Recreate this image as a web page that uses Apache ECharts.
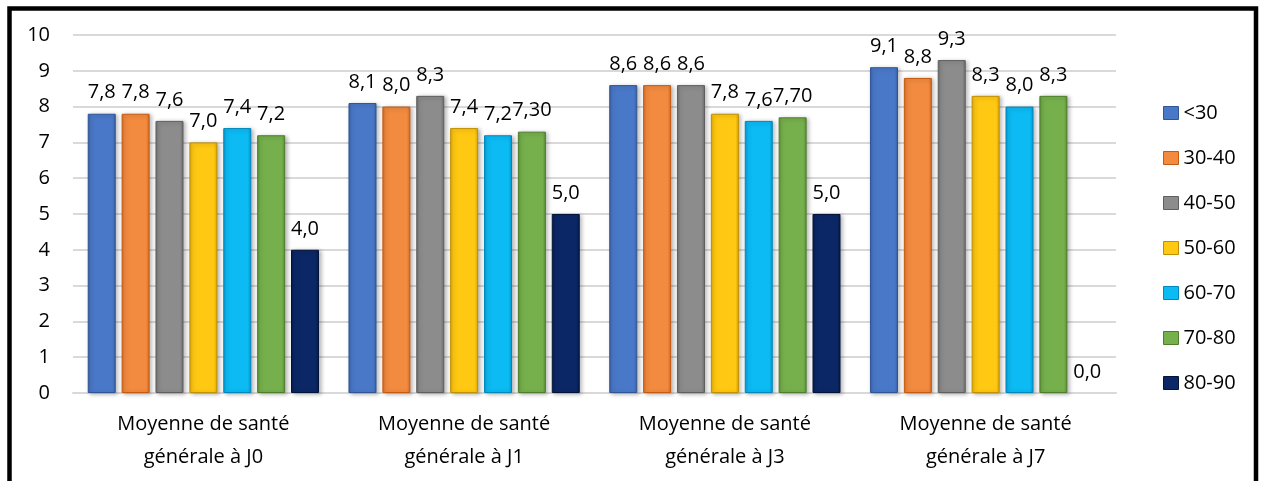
<!DOCTYPE html>
<html>
<head>
<meta charset="utf-8">
<script src="https://cdn.jsdelivr.net/npm/echarts@6/dist/echarts.min.js"></script>
<style>
  html, body { margin: 0; padding: 0; background: #ffffff; }
  #chart { width: 1262px; height: 481px; }
</style>
</head>
<body>
<div id="chart"></div>
<script>
// Mean general health score by age group, at J0, J1, J3 and J7
const categories = [
  'Moyenne de santé\ngénérale à J0',
  'Moyenne de santé\ngénérale à J1',
  'Moyenne de santé\ngénérale à J3',
  'Moyenne de santé\ngénérale à J7'
];
const ageGroups = ['<30', '30-40', '40-50', '50-60', '60-70', '70-80', '80-90'];

const valuesUnder30 = [7.8, 8.1, 8.6, 9.1];
const values30to40 = [7.8, 8.0, 8.6, 8.8];
const values40to50 = [7.6, 8.3, 8.6, 9.3];
const values50to60 = [7.0, 7.4, 7.8, 8.3];
const values60to70 = [7.4, 7.2, 7.6, 8.0];
const values70to80 = [7.2, 7.30, 7.70, 8.3];
const values80to90 = [4.0, 5.0, 5.0, 0.0];

// number of decimals shown in each data label (the 70-80 group shows two at J1 and J3)
const labelDecimals = [
  [1, 1, 1, 1],
  [1, 1, 1, 1],
  [1, 1, 1, 1],
  [1, 1, 1, 1],
  [1, 1, 1, 1],
  [1, 2, 2, 1],
  [1, 1, 1, 1]
];

const yTicks = { min: 0, max: 10, interval: 1 };

const seriesValues = [valuesUnder30, values30to40, values40to50, values50to60, values60to70, values70to80, values80to90];

// base, edge and outline tones for each bar colour
const palette = [
  { base: '#4a78c8', edge: '#3a62a8', line: '#2f5597' },
  { base: '#f28a3f', edge: '#d66b22', line: '#c55a11' },
  { base: '#8c8c8c', edge: '#6e6e6e', line: '#5f5f5f' },
  { base: '#ffc812', edge: '#e0a800', line: '#bf9000' },
  { base: '#0cbaf4', edge: '#0098cf', line: '#0088bb' },
  { base: '#76b04c', edge: '#5c9236', line: '#4e7e2c' },
  { base: '#0b2766', edge: '#061a4a', line: '#041338' }
];

const fontFamily = '"Open Sans", "Noto Sans", sans-serif';
const textColor = '#000000';

function barFill(p) {
  return {
    type: 'linear', x: 0, y: 0, x2: 1, y2: 0,
    colorStops: [
      { offset: 0, color: p.edge },
      { offset: 0.12, color: p.base },
      { offset: 0.88, color: p.base },
      { offset: 1, color: p.edge }
    ]
  };
}

const series = ageGroups.map((name, i) => ({
  name: name,
  type: 'bar',
  // a zero value keeps its label but draws no visible outline
  data: seriesValues[i].map(v => (v === 0
    ? { value: v, itemStyle: { borderWidth: 0, shadowBlur: 0, shadowOffsetX: 0, shadowOffsetY: 0 } }
    : v)),
  barWidth: 28,
  barGap: '21%',
  itemStyle: {
    color: barFill(palette[i]),
    borderColor: palette[i].line,
    borderWidth: 1,
    shadowBlur: 4,
    shadowOffsetX: 2,
    shadowOffsetY: 1,
    shadowColor: 'rgba(0,0,0,0.28)'
  },
  label: {
    show: true,
    position: 'top',
    distance: 11,
    fontFamily: fontFamily,
    fontSize: 20,
    color: textColor,
    formatter: (prm) => prm.value.toFixed(labelDecimals[i][prm.dataIndex]).replace('.', ',')
  }
}));

const chart = echarts.init(document.getElementById('chart'), null, { renderer: 'canvas' });
chart.setOption({
  animation: false,
  backgroundColor: '#ffffff',
  textStyle: { fontFamily: fontFamily },
  grid: { left: 73, right: 146, top: 35, bottom: 88, containLabel: false },
  legend: {
    orient: 'vertical',
    left: 1158,
    top: 98,
    itemWidth: 15,
    itemHeight: 13,
    itemGap: 25,
    icon: 'rect',
    textStyle: { fontFamily: fontFamily, fontSize: 20, color: textColor },
    data: ageGroups.map((n, i) => ({ name: n, itemStyle: { color: palette[i].base, borderColor: palette[i].line, borderWidth: 1 } }))
  },
  xAxis: {
    type: 'category',
    data: categories,
    axisTick: { show: false },
    axisLine: { show: true, lineStyle: { color: '#d9d9d9', width: 2 } },
    axisLabel: {
      fontFamily: fontFamily,
      fontSize: 20,
      color: textColor,
      lineHeight: 33,
      margin: 15,
      interval: 0
    }
  },
  yAxis: {
    type: 'value',
    min: yTicks.min,
    max: yTicks.max,
    interval: yTicks.interval,
    axisLine: { show: false },
    axisTick: { show: false },
    splitLine: { lineStyle: { color: '#d9d9d9', width: 2 } },
    axisLabel: { fontFamily: fontFamily, fontSize: 20, color: textColor, margin: 23 }
  },
  graphic: [
    {
      type: 'rect',
      silent: true,
      z: 100,
      shape: { x: 9.5, y: 8.5, width: 1246.5, height: 520 },
      style: { fill: 'none', stroke: '#000000', lineWidth: 4.5 }
    }
  ],
  series: series
});
</script>
</body>
</html>
